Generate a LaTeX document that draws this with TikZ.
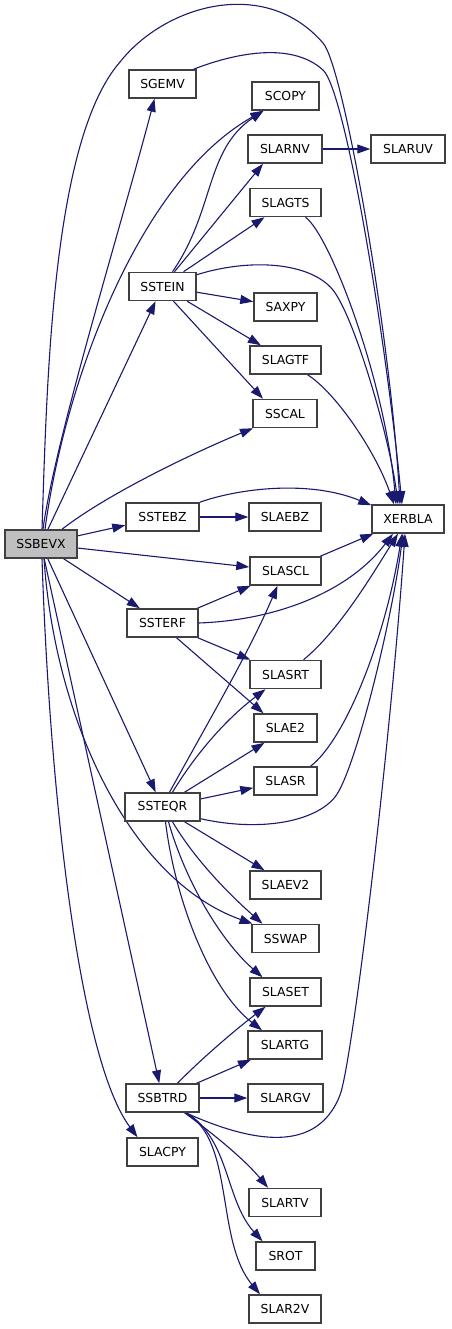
\documentclass[tikz,border=0pt]{standalone}
\usepackage{fontspec}
\setmainfont{DejaVu Sans}
\usetikzlibrary{arrows.meta,backgrounds}
\definecolor{edgec}{HTML}{191970}
\definecolor{boxc}{HTML}{404040}
\definecolor{selc}{HTML}{BFBFBF}
\begin{document}
\begin{tikzpicture}[x=1pt,y=-1pt,
  fn/.style={rectangle,draw=boxc,line width=1.5pt,minimum height=28pt,inner sep=0pt,
    font=\fontsize{12.4}{14}\selectfont,text=black,fill=white},
  call/.style={draw=edgec,line width=1.1pt,-{Triangle[length=13pt,width=9pt]},fill=none}]
\useasboundingbox (0,0) rectangle (451,1329);
% nodes
\node[fn,fill=selc,minimum width=72pt] (ssbevx) at (41,544) {SSBEVX};
\node[fn,minimum width=67pt] (sgemv) at (162.5,84) {SGEMV};
\node[fn,minimum width=67pt] (scopy) at (285.5,96) {SCOPY};
\node[fn,minimum width=74pt] (slarnv) at (285,149) {SLARNV};
\node[fn,minimum width=74pt] (slaruv) at (408,149) {SLARUV};
\node[fn,minimum width=71pt] (slagts) at (285.5,202.5) {SLAGTS};
\node[fn,minimum width=67pt] (sstein) at (162.5,286.5) {SSTEIN};
\node[fn,minimum width=63pt] (saxpy) at (285.5,307) {SAXPY};
\node[fn,minimum width=71pt] (slagtf) at (285.5,360) {SLAGTF};
\node[fn,minimum width=64pt] (sscal) at (285,413.5) {SSCAL};
\node[fn,minimum width=73pt] (sstebz) at (162.5,517) {SSTEBZ};
\node[fn,minimum width=72pt] (slaebz) at (285,517) {SLAEBZ};
\node[fn,minimum width=72pt] (xerbla) at (408,519) {XERBLA};
\node[fn,minimum width=71pt] (slascl) at (285.5,571) {SLASCL};
\node[fn,minimum width=71pt] (ssterf) at (162.5,623) {SSTERF};
\node[fn,minimum width=71pt] (slasrt) at (285.5,674.5) {SLASRT};
\node[fn,minimum width=63pt] (slae2) at (285.5,728) {SLAE2};
\node[fn,minimum width=63pt] (slasr) at (285.5,781) {SLASR};
\node[fn,minimum width=75pt] (ssteqr) at (162.5,807) {SSTEQR};
\node[fn,minimum width=71pt] (slaev2) at (285.5,885) {SLAEV2};
\node[fn,minimum width=67pt] (sswap) at (285.5,938.5) {SSWAP};
\node[fn,minimum width=71pt] (slaset) at (285.5,992) {SLASET};
\node[fn,minimum width=74pt] (slartg) at (285,1045) {SLARTG};
\node[fn,minimum width=73pt] (ssbtrd) at (162.5,1098) {SSBTRD};
\node[fn,minimum width=75pt] (slargv) at (285.5,1098) {SLARGV};
\node[fn,minimum width=71pt] (slacpy) at (162.5,1152) {SLACPY};
\node[fn,minimum width=72pt] (slartv) at (285,1202.5) {SLARTV};
\node[fn,minimum width=59pt] (srot) at (285.5,1256) {SROT};
\node[fn,minimum width=72pt] (slar2v) at (285,1309) {SLAR2V};
\begin{scope}[on background layer]
% edges from SSBEVX
\draw[call] ([xshift=1pt]ssbevx.north) .. controls (47,380) and (52,140) .. (120,62)
  .. controls (165,5) and (265,-24) .. (323,43)
  .. controls (343,65) and (390,330) .. ([xshift=-8pt]xerbla.north);
\draw[call] ([xshift=2pt]ssbevx.north) .. controls (55,440) and (120,230) .. ([xshift=-8pt]sgemv.south);
\draw[call] ([xshift=4pt]ssbevx.north) .. controls (65,380) and (140,180) .. ([xshift=-22pt]scopy.south);
\draw[call] (ssbevx) -- (sstein);
\draw[call] ([xshift=21pt]ssbevx.north) .. controls (110,492) and (200,450) .. ([xshift=-32pt]sscal.south);
\draw[call] (ssbevx) -- (sstebz);
\draw[call] (ssbevx) -- (slascl);
\draw[call] (ssbevx) -- (ssterf);
\draw[call] (ssbevx) -- (ssteqr);
\draw[call] ([xshift=3pt]ssbevx.south) .. controls (55,720) and (130,880) .. ([xshift=-33pt]sswap.north);
\draw[call] (ssbevx) -- (ssbtrd);
\draw[call] ([xshift=1pt]ssbevx.south) .. controls (50,800) and (80,1060) .. ([xshift=-25pt]slacpy.north);
% SGEMV
\draw[call] ([xshift=31pt]sgemv.north) .. controls (230,55) and (290,40) .. (323,70)
  .. controls (345,90) and (385,330) .. ([xshift=-6pt]xerbla.north);
% SSTEIN
\draw[call] ([xshift=10pt]sstein.north) .. controls (215,210) and (205,150) .. ([xshift=-22pt]scopy.south);
\draw[call] ([xshift=12pt]sstein.north) -- ([xshift=-22pt]slarnv.south);
\draw[call] ([xshift=21pt]sstein.north) -- ([xshift=-21pt]slagts.south);
\draw[call] ([yshift=-3pt]sstein.north east) .. controls (250,258) and (310,262) .. (333,290)
  .. controls (355,318) and (390,440) .. ([xshift=-10pt]xerbla.north);
\draw[call] (sstein) -- (saxpy);
\draw[call] (sstein) -- (slagtf);
\draw[call] ([xshift=11pt]sstein.south) -- ([xshift=-22pt]sscal.north);
\draw[call] (slarnv) -- (slaruv);
\draw[call] ([xshift=20pt]slagts.south) .. controls (330,235) and (385,380) .. ([xshift=-12pt]xerbla.north);
\draw[call] ([xshift=22pt]slagtf.south) .. controls (335,392) and (375,450) .. ([xshift=-14pt]xerbla.north);
% SSTEBZ
\draw[call] (sstebz.north east) .. controls (240,488) and (310,480) .. ([yshift=-1pt]xerbla.north west);
\draw[call] (sstebz) -- (slaebz);
\draw[call] (slascl) -- (xerbla);
% SSTERF
\draw[call] (ssterf) -- (slascl);
\draw[call] (ssterf.east) .. controls (280,620) and (350,590) .. ([xshift=-15pt]xerbla.south);
\draw[call] (ssterf) -- (slasrt);
\draw[call] ([xshift=14pt]ssterf.south) -- ([xshift=-22pt]slae2.north);
\draw[call] ([xshift=18pt]slasrt.north) .. controls (340,630) and (375,570) .. ([xshift=-10pt]xerbla.south);
% SSTEQR
\draw[call] ([xshift=7pt]ssteqr.north) .. controls (215,710) and (250,650) .. ([xshift=-8pt]slascl.south);
\draw[call] ([xshift=10pt]ssteqr.north) .. controls (195,755) and (225,720) .. ([xshift=-20pt]slasrt.south);
\draw[call] ([xshift=22pt]ssteqr.north) -- ([xshift=-21pt]slae2.south);
\draw[call] (ssteqr) -- (slasr);
\draw[call] ([yshift=3pt]ssteqr.south east) .. controls (260,832) and (315,822) .. (335,797)
  .. controls (355,772) and (392,620) .. ([xshift=-5pt]xerbla.south);
\draw[call] ([xshift=22pt]ssteqr.south) -- ([xshift=-21pt]slaev2.north);
\draw[call] ([xshift=10pt]ssteqr.south) .. controls (195,860) and (230,895) .. ([xshift=-23pt]sswap.north);
\draw[call] ([xshift=6pt]ssteqr.south) .. controls (185,880) and (220,940) .. ([xshift=-23pt]slaset.north);
\draw[call] ([xshift=3pt]ssteqr.south) .. controls (175,900) and (210,990) .. ([xshift=-23pt]slartg.north);
\draw[call] ([xshift=25pt]slasr.north) .. controls (345,740) and (385,640) .. ([xshift=-6pt]xerbla.south);
% SSBTRD
\draw[call] ([xshift=15pt]ssbtrd.north) .. controls (200,1060) and (235,1030) .. ([xshift=-20pt]slaset.south);
\draw[call] (ssbtrd) -- (slartg);
\draw[call] (ssbtrd) -- (slargv);
\draw[call] ([xshift=23pt]ssbtrd.south) .. controls (240,1137) and (315,1160) .. (340,1095)
  .. controls (352,1064) and (390,750) .. ([xshift=-3pt]xerbla.south);
\draw[call] ([xshift=22pt]ssbtrd.south) .. controls (215,1135) and (245,1160) .. ([xshift=-17pt]slartv.north);
\draw[call] ([xshift=24pt]ssbtrd.south) .. controls (230,1140) and (225,1200) .. ([xshift=-23pt]srot.north);
\draw[call] ([xshift=23pt]ssbtrd.south) .. controls (235,1140) and (215,1240) .. ([xshift=-25pt]slar2v.north);
\end{scope}
\end{tikzpicture}
\end{document}
